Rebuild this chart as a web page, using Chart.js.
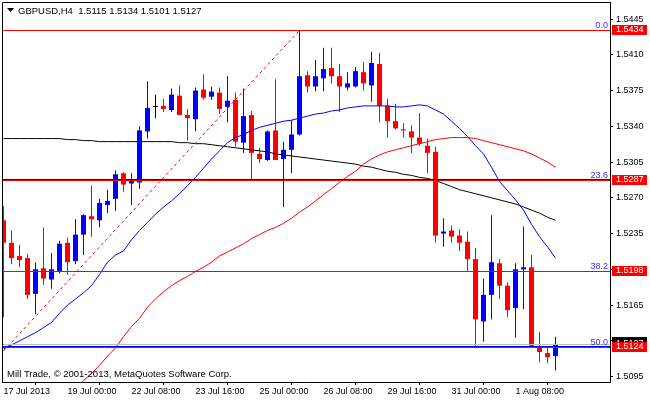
<!DOCTYPE html>
<html>
<head>
<meta charset="utf-8">
<script src="https://cdn.jsdelivr.net/npm/chart.js@4.4.1/dist/chart.umd.min.js"></script>
<style>
  body { margin: 0; background: #fff; }
  canvas { display: block; }
</style>
</head>
<body>
<canvas id="chart" width="650" height="400"></canvas>
<script>
const symbol = "GBPUSD,H4";
const copyright = "Mill Trade, \u00a9 2001-2013, MetaQuotes Software Corp.";

// H4 candles, first visible bar = 17 Jul 16:00
const opens = [
  1.5248, 1.5226, 1.5213, 1.5211, 1.5176, 1.5201, 1.5190, 1.5198, 1.5226, 1.5208,
  1.5234, 1.5252, 1.5248, 1.5263, 1.5269, 1.5294, 1.5284, 1.5285, 1.5335, 1.5359,
  1.5360, 1.5356, 1.5370, 1.5351, 1.5347, 1.5376, 1.5369, 1.5373, 1.5359, 1.5366,
  1.5324, 1.5351, 1.5313, 1.5307, 1.5336, 1.5308, 1.5317, 1.5332, 1.5390, 1.5379,
  1.5387, 1.5397, 1.5389, 1.5378, 1.5379, 1.5393, 1.5380, 1.5401, 1.5360, 1.5345,
  1.5337, 1.5335, 1.5329, 1.5321, 1.5315, 1.5235, 1.5238, 1.5233, 1.5227, 1.5210,
  1.5149, 1.5175, 1.5206, 1.5184, 1.5162, 1.5200, 1.5202, 1.5124, 1.5118, 1.5115
];
const highs = [
  1.5262, 1.5238, 1.5224, 1.5215, 1.5207, 1.5241, 1.5216, 1.5228, 1.5231, 1.5249,
  1.5254, 1.5282, 1.5269, 1.5278, 1.5297, 1.5295, 1.5294, 1.5340, 1.5384, 1.5371,
  1.5367, 1.5377, 1.5380, 1.5357, 1.5378, 1.5391, 1.5379, 1.5378, 1.5389, 1.5373,
  1.5377, 1.5355, 1.5319, 1.5336, 1.5386, 1.5325, 1.5346, 1.5434, 1.5394, 1.5405,
  1.5417, 1.5417, 1.5401, 1.5393, 1.5398, 1.5403, 1.5413, 1.5412, 1.5367, 1.5362,
  1.5343, 1.5341, 1.5353, 1.5328, 1.5320, 1.5250, 1.5243, 1.5239, 1.5237, 1.5221,
  1.5191, 1.5253, 1.5210, 1.5187, 1.5206, 1.5242, 1.5214, 1.5139, 1.5124, 1.5134
];
const lows = [
  1.5153, 1.5205, 1.5202, 1.5171, 1.5156, 1.5185, 1.5181, 1.5196, 1.5195, 1.5205,
  1.5214, 1.5232, 1.5241, 1.5255, 1.5257, 1.5276, 1.5263, 1.5279, 1.5328, 1.5348,
  1.5354, 1.5354, 1.5351, 1.5326, 1.5335, 1.5366, 1.5366, 1.5352, 1.5344, 1.5320,
  1.5314, 1.5288, 1.5304, 1.5306, 1.5307, 1.5261, 1.5294, 1.5331, 1.5373, 1.5374,
  1.5374, 1.5382, 1.5354, 1.5375, 1.5378, 1.5375, 1.5364, 1.5344, 1.5329, 1.5337,
  1.5329, 1.5314, 1.5321, 1.5294, 1.5226, 1.5222, 1.5226, 1.5218, 1.5198, 1.5124,
  1.5129, 1.5151, 1.5171, 1.5153, 1.5133, 1.5161, 1.5124, 1.5109, 1.5108, 1.5101
];
const closes = [
  1.5226, 1.5211, 1.5209, 1.5175, 1.5200, 1.5191, 1.5200, 1.5225, 1.5207, 1.5234,
  1.5253, 1.5249, 1.5265, 1.5267, 1.5293, 1.5283, 1.5287, 1.5336, 1.5358, 1.5359,
  1.5357, 1.5371, 1.5351, 1.5348, 1.5375, 1.5368, 1.5374, 1.5357, 1.5365, 1.5325,
  1.5350, 1.5314, 1.5308, 1.5335, 1.5307, 1.5317, 1.5332, 1.5389, 1.5379, 1.5389,
  1.5396, 1.5389, 1.5379, 1.5382, 1.5394, 1.5382, 1.5402, 1.5360, 1.5345, 1.5338,
  1.5336, 1.5329, 1.5323, 1.5314, 1.5233, 1.5237, 1.5232, 1.5226, 1.5210, 1.5151,
  1.5175, 1.5207, 1.5184, 1.5160, 1.5200, 1.5202, 1.5124, 1.5119, 1.5114, 1.5127
];

// moving averages
const maFast = [
  1.5122, 1.5126, 1.5130, 1.5134, 1.5138, 1.5143, 1.5148, 1.5157, 1.5165, 1.5171,
  1.5177, 1.5184, 1.5195, 1.5207, 1.5214, 1.5218, 1.5229, 1.5238, 1.5246, 1.5254,
  1.5261, 1.5267, 1.5274, 1.5282, 1.5290, 1.5299, 1.5308, 1.5316, 1.5324, 1.5329,
  1.5332, 1.5336, 1.5339, 1.5341, 1.5343, 1.5345, 1.5346, 1.5348, 1.5350, 1.5352,
  1.5353, 1.5355, 1.5356, 1.5358, 1.5359, 1.5360, 1.5360, 1.5360, 1.5360, 1.5359,
  1.5359, 1.5360, 1.5361, 1.5360, 1.5356, 1.5352, 1.5345, 1.5338, 1.5330, 1.5321,
  1.5313, 1.5300, 1.5286, 1.5277, 1.5268, 1.5258, 1.5244, 1.5232, 1.5222, 1.5211
];
const maMid = [
  null, null, null, null, null, null, null, null, 1.5075, 1.5083,
  1.5091, 1.5098, 1.5106, 1.5115, 1.5123, 1.5134, 1.5144, 1.5152, 1.5163, 1.5171,
  1.5178, 1.5184, 1.5189, 1.5193, 1.5198, 1.5202, 1.5207, 1.5213, 1.5217, 1.5221,
  1.5225, 1.5230, 1.5234, 1.5238, 1.5241, 1.5245, 1.5250, 1.5256, 1.5261, 1.5267,
  1.5273, 1.5279, 1.5285, 1.5291, 1.5296, 1.5303, 1.5308, 1.5312, 1.5315, 1.5317,
  1.5319, 1.5321, 1.5323, 1.5325, 1.5327, 1.5328, 1.5329, 1.5329, 1.5329, 1.5328,
  1.5326, 1.5324, 1.5322, 1.5320, 1.5318, 1.5316, 1.5313, 1.5309, 1.5305, 1.5300
];
const maSlow = [
  1.5328, 1.5328, 1.5328, 1.5328, 1.5328, 1.5328, 1.5328, 1.5328, 1.5327, 1.5327,
  1.5326, 1.5326, 1.5325, 1.5325, 1.5325, 1.5325, 1.5325, 1.5325, 1.5325, 1.5325,
  1.5325, 1.5325, 1.5324, 1.5324, 1.5323, 1.5323, 1.5322, 1.5321, 1.5320, 1.5319,
  1.5318, 1.5317, 1.5316, 1.5315, 1.5313, 1.5312, 1.5311, 1.5310, 1.5309, 1.5308,
  1.5307, 1.5306, 1.5305, 1.5304, 1.5303, 1.5301, 1.5300, 1.5298, 1.5296, 1.5295,
  1.5293, 1.5292, 1.5290, 1.5289, 1.5287, 1.5284, 1.5281, 1.5278, 1.5276, 1.5274,
  1.5272, 1.5270, 1.5268, 1.5266, 1.5264, 1.5261, 1.5258, 1.5255, 1.5251, 1.5248
];

// fibonacci retracement and other objects
const fibLevels = [1.5434, 1.5287, 1.5198, 1.5124];
const fibNames = ["0.0", "23.6", "38.2", "50.0"];
const fibTrendBars = [0, 37];
const fibTrendPrices = [1.5120, 1.5434];
const supportLevels = [1.5288, 1.5125];
const bidPrice = 1.5127;

const yTicks = [1.5445, 1.5410, 1.5375, 1.5340, 1.5305, 1.5270, 1.5235, 1.5200, 1.5165, 1.5130, 1.5095];
const xTickBars = [0, 8, 16, 24, 32, 40, 48, 56, 64];
const xTickLabels = ["17 Jul 2013", "19 Jul 00:00", "22 Jul 08:00", "23 Jul 16:00", "25 Jul 00:00",
  "26 Jul 08:00", "29 Jul 16:00", "31 Jul 00:00", "1 Aug 08:00"];

const FONT = '9px "Liberation Sans", Arial, sans-serif';
const TEXT_FONT = '9.5px "Liberation Sans", Arial, sans-serif';
const BULL = '#0000ff', BEAR = '#ff0000', DOJI = '#000000';

const candleColors = opens.map((o, i) => closes[i] > o ? BULL : (closes[i] < o ? BEAR : DOJI));
const last = opens.length - 1;

const overlay = {
  id: 'overlay',
  afterDatasetsDraw(chart) {
    const { ctx, chartArea: a, scales: { y } } = chart;
    ctx.save();
    ctx.beginPath();
    ctx.rect(a.left, a.top, a.right - a.left, a.bottom - a.top);
    ctx.clip();
    const hline = (v, color) => {
      const py = Math.round(y.getPixelForValue(v)) + 0.5;
      ctx.strokeStyle = color;
      ctx.lineWidth = 1;
      ctx.beginPath();
      ctx.moveTo(a.left, py);
      ctx.lineTo(a.right, py);
      ctx.stroke();
    };
    hline(bidPrice, '#c0c0c0');
    supportLevels.forEach(v => hline(v, '#0000ff'));
    fibLevels.forEach(v => hline(v, '#ff0000'));

    ctx.font = FONT;
    ctx.fillStyle = '#3333ff';
    ctx.textAlign = 'right';
    ctx.textBaseline = 'alphabetic';
    fibLevels.forEach((v, k) => {
      ctx.fillText(fibNames[k], a.right - 2, Math.round(y.getPixelForValue(v)) - 2);
    });

    // copyright line
    ctx.font = TEXT_FONT;
    ctx.fillStyle = '#000';
    ctx.textAlign = 'left';
    ctx.fillText(copyright, 7, 377);
    ctx.restore();
  },
  afterDraw(chart) {
    const { ctx, chartArea: a, scales: { y } } = chart;
    ctx.save();
    // frame
    ctx.strokeStyle = '#000';
    ctx.lineWidth = 1;
    ctx.beginPath();
    ctx.moveTo(a.left + 0.5, a.bottom);
    ctx.lineTo(a.left + 0.5, a.top + 0.5);
    ctx.lineTo(a.right, a.top + 0.5);
    ctx.stroke();

    // price labels on the axis
    ctx.font = FONT;
    ctx.textAlign = 'left';
    ctx.textBaseline = 'middle';
    const box = (v, bg, top, bottom) => {
      const py = Math.round(y.getPixelForValue(v));
      ctx.fillStyle = bg;
      ctx.fillRect(a.right + 2, py - top, 35, top + bottom);
      ctx.fillStyle = '#fff';
      ctx.fillText(v.toFixed(4), a.right + 6, py);
    };
    box(bidPrice, '#000', 7, 5);
    fibLevels.forEach(v => box(v, '#ff0000', 5, 5));

    // header
    ctx.fillStyle = '#000';
    ctx.beginPath();
    ctx.moveTo(7, 8);
    ctx.lineTo(14, 8);
    ctx.lineTo(10.5, 12);
    ctx.closePath();
    ctx.fill();
    ctx.font = TEXT_FONT;
    ctx.textBaseline = 'alphabetic';
    const ohlc = [opens[last], highs[last], lows[last], closes[last]].map(v => v.toFixed(4)).join(' ');
    ctx.fillText(symbol + '  ' + ohlc, 18, 14);
    ctx.restore();
  }
};

const xy = arr => arr.map((v, i) => ({ x: i, y: v }));

new Chart(document.getElementById('chart'), {
  data: {
    datasets: [
      {
        type: 'bar',
        data: opens.map((o, i) => ({ x: i, y: [lows[i], highs[i]] })),
        backgroundColor: candleColors,
        maxBarThickness: 1,
        grouped: false,
        inflateAmount: 0,
        order: 5
      },
      {
        type: 'bar',
        data: opens.map((o, i) => ({ x: i, y: [o, closes[i]] })),
        backgroundColor: candleColors,
        maxBarThickness: 5,
        minBarLength: 1,
        grouped: false,
        inflateAmount: 0,
        order: 4
      },
      {
        type: 'line', data: xy(maSlow), borderColor: '#000000', borderWidth: 1,
        pointRadius: 0, tension: 0, order: 3
      },
      {
        type: 'line', data: xy(maMid), borderColor: '#ff0000', borderWidth: 1,
        pointRadius: 0, tension: 0, order: 2
      },
      {
        type: 'line', data: xy(maFast), borderColor: '#0000ff', borderWidth: 1,
        pointRadius: 0, tension: 0, order: 1
      },
      {
        type: 'line',
        data: fibTrendBars.map((b, k) => ({ x: b, y: fibTrendPrices[k] })),
        borderColor: '#ff0000', borderWidth: 1, borderDash: [3, 3],
        pointRadius: 0, order: 0
      }
    ]
  },
  options: {
    responsive: false,
    animation: false,
    devicePixelRatio: 1,
    events: [],
    layout: { padding: { left: 2, top: 2, right: 0, bottom: 0 } },
    plugins: { legend: { display: false }, tooltip: { enabled: false } },
    scales: {
      x: {
        type: 'linear',
        min: -0.1875,
        max: 75.8125,
        offset: false,
        grid: { drawOnChartArea: false, drawTicks: true, tickLength: 3, color: '#000' },
        border: { display: true, color: '#000' },
        ticks: {
          autoSkip: false, maxRotation: 0, align: 'start', padding: 1,
          color: '#000', font: { family: '"Liberation Sans", Arial, sans-serif', size: 9 },
          callback: v => xTickLabels[xTickBars.indexOf(v)]
        },
        afterBuildTicks: s => { s.ticks = xTickBars.map(v => ({ value: v })); },
        afterFit: s => { s.height = 18; s.paddingLeft = 0; s.paddingRight = 0; }
      },
      y: {
        type: 'linear',
        position: 'right',
        min: 1.50897,
        max: 1.54617,
        grid: { drawOnChartArea: false, drawTicks: true, tickLength: 3, color: '#000' },
        border: { display: true, color: '#000' },
        ticks: {
          padding: 3, color: '#000',
          font: { family: '"Liberation Sans", Arial, sans-serif', size: 9 },
          callback: v => v.toFixed(4)
        },
        afterBuildTicks: s => { s.ticks = yTicks.map(v => ({ value: v })); },
        afterFit: s => { s.width = 40; s.paddingTop = 0; s.paddingBottom = 0; }
      }
    }
  },
  plugins: [overlay]
});
</script>
</body>
</html>
